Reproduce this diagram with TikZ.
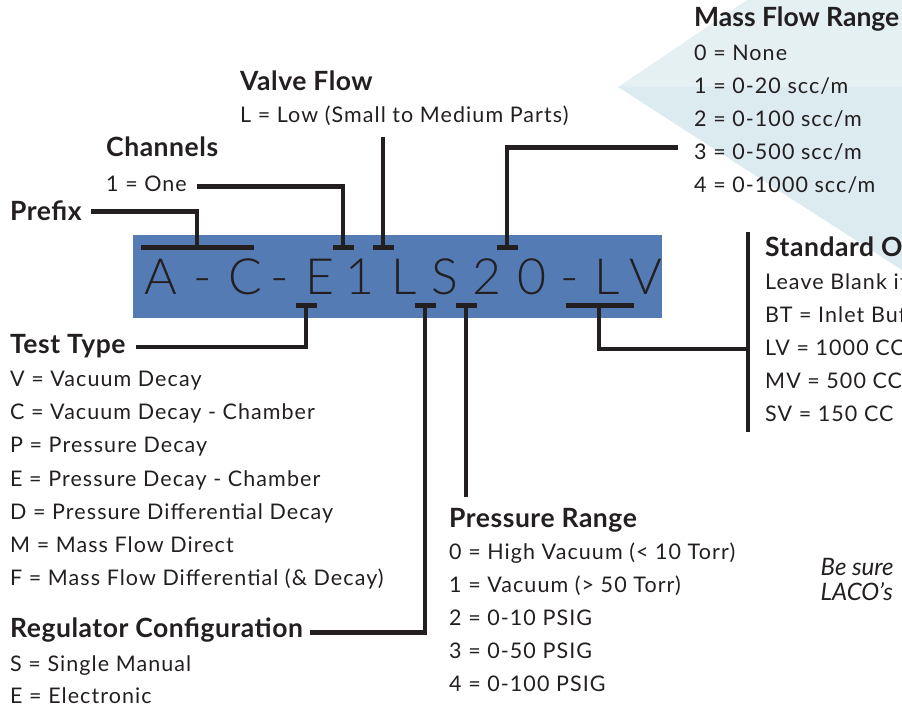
\documentclass[tikz,border=0pt]{standalone}
\usepackage{fontspec}
\setmainfont{Lato}[LetterSpace=5]
\newfontfamily\headfont{Lato}[LetterSpace=2]
\newfontfamily\notefont{Lato}
\newfontfamily\codefont{Lato Light}

\definecolor{codeblue}{RGB}{84,123,180}
\definecolor{ink}{RGB}{35,31,32}
\definecolor{facetup}{RGB}{229,240,243}
\definecolor{facetlow}{RGB}{219,235,239}

\tikzset{
  head/.style={anchor=base west, inner sep=0pt, text=ink,
    font=\fontsize{26.5}{30}\selectfont\headfont\bfseries},
  item/.style={anchor=base west, inner sep=0pt, text=ink,
    font=\fontsize{21.5}{30}\selectfont},
  code/.style={anchor=base, inner sep=0pt, text=ink,
    font=\fontsize{50}{52}\selectfont\codefont},
  lead/.style={draw=ink, line width=4.5pt},
  tee/.style={draw=ink, line width=5pt},
}

\begin{document}
\begin{tikzpicture}[x=1pt,y=-1pt]
        \useasboundingbox (0,0) rectangle (902,708);
        % pale facets behind the mass flow list
        \fill[facetup] (618,87) -- (747,0) -- (902,0) -- (902,87) -- cycle;
        \fill[facetlow] (618,87) -- (902,87) -- (902,270) -- cycle;

        % the part number
        \node[fill=codeblue, anchor=north west, inner sep=0pt,
          minimum width=529pt, minimum height=83pt] (strip) at (133,235) {};
        \foreach \x/\c [count=\i] in {161/A, 203/-, 245/C, 280/-, 319.5/E, 360/1,
            404/L, 445/S, 487/2, 532/0, 570/-, 607/L, 646/V}
          \node[code] (c\i) at (\x,295) {\c};

        % headings and their lists
        \node[head] (prefix) at (10,220.5) {Prefix};
        \node[head] (chan) at (106,156.5) {Channels};
        \node[item] (chan1) at (106,191.5) {1 = One};
        \node[head] (valve) at (240,90.5) {Valve Flow};
        \node[item] (valve1) at (240,123) {L = Low (Small to Medium Parts)};
        \node[head, font=\fontsize{26.5}{30}\selectfont\notefont\bfseries] (mass) at (694,27) {Mass Flow Range};
        \foreach \t [count=\i] in {{0 = None}, {1 = 0-20 scc/m}, {2 = 0-100 scc/m},
            {3 = 0-500 scc/m}, {4 = 0-1000 scc/m}}
          \node[item] (mass\i) at (694,27+33.1*\i) {\t};
        \node[head] (std) at (765,256.5) {Standard O};
        \foreach \t [count=\i] in {{Leave Blank if}, {BT = Inlet Buf}, {LV = 1000 CC},
            {MV = 500 CC}, {SV = 150 CC}}
          \node[item] (std\i) at (765,257+32.8*\i) {\t};
        \node[head] (test) at (10,354) {Test Type};
        \foreach \t [count=\i] in {{V = Vacuum Decay}, {C = Vacuum Decay - Chamber},
            {P = Pressure Decay}, {E = Pressure Decay - Chamber},
            {D = Pressure Differential Decay}, {M = Mass Flow Direct},
            {F = Mass Flow Differential (\& Decay)}}
          \node[item] (test\i) at (10,353.5+33.15*\i) {\t};
        \node[head] (reg) at (10,637.5) {Regulator Configuration};
        \node[item] (reg1) at (10,671) {S = Single Manual};
        \node[item] (reg2) at (10,703.5) {E = Electronic};
        \node[head] (press) at (449,527) {Pressure Range};
        \foreach \t [count=\i] in {{0 = High Vacuum (< 10 Torr)}, {1 = Vacuum (> 50 Torr)},
            {2 = 0-10 PSIG}, {3 = 0-50 PSIG}, {4 = 0-100 PSIG}}
          \node[item] (press\i) at (449,527+32.8*\i) {\t};
        \node[item, font=\fontsize{24}{28}\selectfont\notefont\itshape] (note1) at (820.5,575) {Be sure};
        \node[item, font=\fontsize{24}{28}\selectfont\notefont\itshape] (note2) at (820.5,600) {LACO’s};

        % tee points on the strip
        \coordinate (pfxT) at (197,248);
        \coordinate (chanT) at (343,248);
        \coordinate (valveT) at (383,248);
        \coordinate (massT) at (507,248);
        \coordinate (testT) at (306,306);
        \coordinate (regT) at (425,306);
        \coordinate (pressT) at (466,306);
        \coordinate (stdT) at (599,306);
        \draw[tee] ([xshift=-56pt]pfxT) -- ([xshift=57pt]pfxT);
        \foreach \p in {chanT, valveT, massT, testT, regT, pressT}
          \draw[tee] ([xshift=-10.5pt]\p) -- ([xshift=10.5pt]\p);
        \draw[tee] ([xshift=-33pt]stdT) -- ([xshift=35pt]stdT);

        % leads
        \coordinate (valveTop) at (383,137);
        \coordinate (massOut) at ([xshift=-16pt,yshift=12pt]mass4.base west);
        \coordinate (pressEnd) at (466,497);
        \coordinate (stdKnee) at (748,349);
        \coordinate (stdTop) at (748,232);
        \coordinate (stdBot) at (748,432);
        \draw[lead] ([xshift=9pt,yshift=9pt]prefix.base east) -| (pfxT);
        \draw[lead] ([xshift=10pt,yshift=5pt]chan1.base east) -| (chanT);
        \draw[lead] (valveTop) -- (valveT);
        \draw[lead] (massOut) -| (massT);
        \draw[lead] ([xshift=10pt,yshift=7pt]test.base east) -| (testT);
        \draw[lead] ([xshift=7pt,yshift=5pt]reg.base east) -| (regT);
        \draw[lead] (pressT) -- (pressEnd);
        \draw[lead] (stdT) |- (stdKnee);
        \draw[lead] (stdTop) -- (stdBot);
\end{tikzpicture}
\end{document}
